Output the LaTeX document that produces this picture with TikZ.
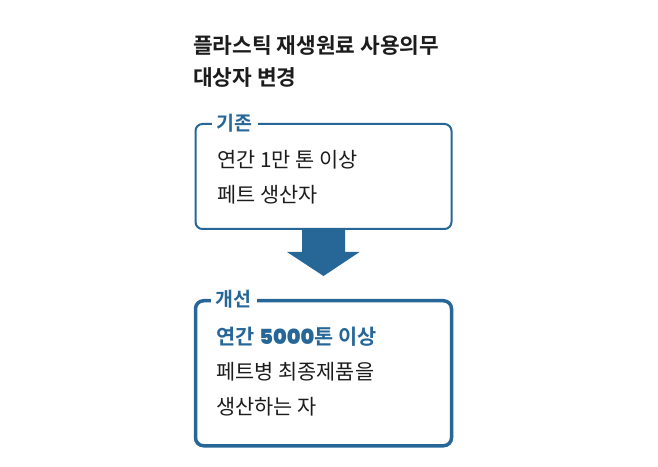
\documentclass[tikz,border=0pt]{standalone}
\usepackage{fontspec}
\setmainfont{Noto Sans CJK KR}[BoldFont={Noto Sans CJK KR Bold}]
\newfontfamily\digitfont{Poppins SemiBold}
\usetikzlibrary{positioning,calc}
\definecolor{petblue}{RGB}{38,103,152}
\definecolor{inkgray}{RGB}{28,28,28}
\tikzstyle{caseold} = [
  draw=petblue,
  line width=2pt,
  rounded corners=7pt,
  minimum width=256pt,
  minimum height=105pt,
]
\tikzstyle{casenew} = [
  draw=petblue,
  line width=3.5pt,
  rounded corners=8pt,
  minimum width=256pt,
  minimum height=145pt,
]
\tikzstyle{tag} = [
  fill=white,
  text=petblue,
  anchor=west,
  inner xsep=5pt,
  inner ysep=1pt,
  font=\bfseries\fontsize{19.5}{19.5}\selectfont,
]
\tikzstyle{body} = [
  text=inkgray,
  anchor=west,
  inner sep=0pt,
  font=\fontsize{20.8}{20.8}\selectfont,
]

\begin{document}
\begin{tikzpicture}
  \useasboundingbox (0,0) rectangle (658pt,466pt);
  \node[
    body,
    font=\bfseries\fontsize{21.4}{21.4}\selectfont,
  ](title1) at (193pt,421pt){플라스틱 재생원료 사용의무};
  \node[
    body,
    font=\bfseries\fontsize{21.4}{21.4}\selectfont,
    below=32pt of title1.west,
    anchor=west,
  ](title2){대상자 변경};
  \node[caseold] (oldcase) at (323.5pt,289.5pt){};
  \node[
    casenew,
    below=69pt of oldcase,
  ](newcase){};
  \node[
    tag,
  ](oldtag) at ($(oldcase.north west)+(17pt,0)$){기존};
  \node[
    tag,
  ](newtag) at ($(newcase.north west)+(17pt,0)$){개선};
  \node[
    body,
  ](oldline1) at ($(oldcase.north west)+(22.5pt,-37pt)$){연간 1만 톤 이상};
  \node[
    body,
    below=35pt of oldline1.west,
    anchor=west,
  ](oldline2){페트 생산자};
  \node[
    body,
    text=petblue,
    font=\bfseries\fontsize{20.8}{20.8}\selectfont,
  ](newline1) at ($(newcase.north west)+(22.5pt,-38pt)$){연간 {\digitfont 5000}톤 이상};
  \node[
    body,
    below=35pt of newline1.west,
    anchor=west,
  ](newline2){페트병 최종제품을};
  \node[
    body,
    below=35pt of newline2.west,
    anchor=west,
  ](newline3){생산하는 자};
  % fat arrow from old case to new case
  \coordinate (tip) at ($(newcase.north)+(0,23pt)$);
  \fill[petblue] ($(oldcase.south)+(-21.5pt,0)$) -- ++(0,-22pt)
    -- ++(-15pt,0) -- (tip) -- ($(oldcase.south)+(36pt,-22pt)$)
    -- ++(-14.5pt,0) -- ($(oldcase.south)+(21.5pt,0)$) -- cycle;
\end{tikzpicture}
\end{document}
